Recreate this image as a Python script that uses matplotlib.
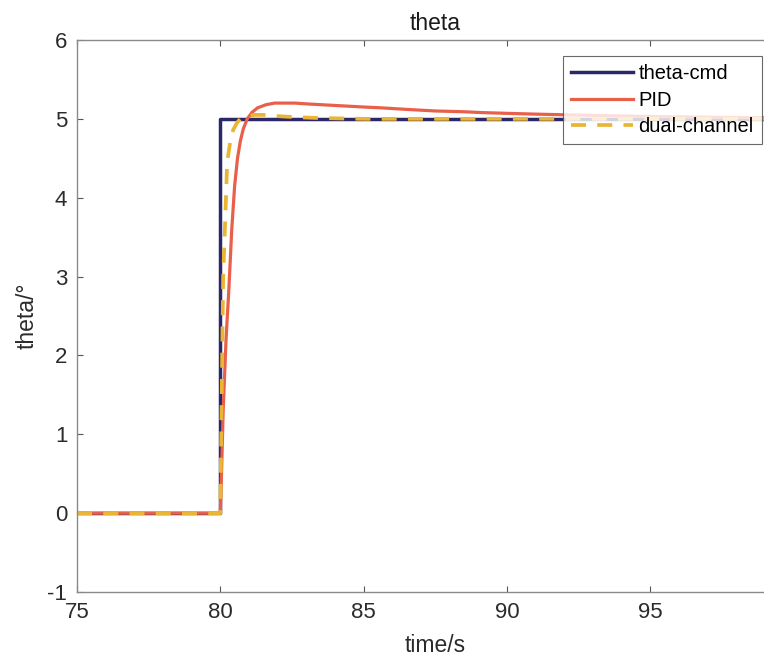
import matplotlib
matplotlib.use("Agg")
import matplotlib.pyplot as plt

plt.rcParams['font.family'] = ['Liberation Sans', 'DejaVu Sans']
plt.rcParams['axes.unicode_minus'] = False

# theta command (step)
t_cmd = [75, 80, 80, 100]
y_cmd = [0, 0, 5, 5]

# PID response
t_pid = [75, 80.0, 80.05, 80.1, 80.2, 80.3, 80.4, 80.5, 80.6, 80.7, 80.8, 80.94,
         81.1, 81.3, 81.6, 81.9, 82.2, 82.6, 83.0, 83.5, 84.0, 85.0, 85.6, 86.5,
         87.5, 88.5, 89.1, 90.0, 91.0, 92.2, 93.5, 95.0, 97.0, 100.0]
y_pid = [0, 0, 0.6, 1.3, 2.2, 2.85, 3.6, 4.15, 4.5, 4.72, 4.87, 5.0,
         5.08, 5.14, 5.18, 5.2, 5.2, 5.2, 5.19, 5.18, 5.17, 5.15, 5.14, 5.12,
         5.1, 5.09, 5.08, 5.07, 5.06, 5.05, 5.04, 5.03, 5.02, 5.01]

# dual-channel response
t_dual = [75, 80.0, 80.05, 80.1, 80.17, 80.24, 80.35, 80.45, 80.58, 80.7, 80.9,
          81.2, 81.5, 81.8, 82.2, 82.7, 83.5, 85.0, 100.0]
y_dual = [0, 0, 1.5, 3.0, 3.7, 4.45, 4.72, 4.86, 4.95, 5.0, 5.03,
          5.05, 5.05, 5.04, 5.03, 5.02, 5.01, 5.0, 5.0]

x_ticks = [75, 80, 85, 90, 95]
y_ticks = [-1, 0, 1, 2, 3, 4, 5, 6]
labels = ['theta-cmd', 'PID', 'dual-channel']
colors = ['#2c2767', '#e8604a', '#eab534']

fig = plt.figure(figsize=(7.64, 6.57), dpi=100)
W, H = 764, 657
left, top, bottom = 77, 40, 592
xmin, xmax = 75, 100
px_per_unit = 143.3 / 5
width_px = (xmax - xmin) * px_per_unit
ax = fig.add_axes([left / W, 1 - bottom / H, width_px / W, (bottom - top) / H])

ax.plot(t_cmd, y_cmd, color=colors[0], lw=2.5, label=labels[0])
ax.plot(t_pid, y_pid, color=colors[1], lw=2.3, label=labels[1])
ax.plot(t_dual, y_dual, color=colors[2], lw=2.7, ls=(0, (4, 3)), label=labels[2])

ax.set_xlim(xmin, xmax)
ax.set_ylim(-1, 6)
ax.set_xticks(x_ticks)
ax.set_yticks(y_ticks)

for s in ax.spines.values():
    s.set_color('#8a8a8a')
    s.set_linewidth(1.0)
ax.spines['right'].set_visible(False)
ax.tick_params(direction='in', length=4, width=0.8, color='#555555',
               labelsize=16, labelcolor='#2b2b2b', top=True, right=False, pad=7)

ax.set_title('theta', fontsize=16.5, color='#1a1a1a', pad=7)
ax.set_xlabel('time/s', fontsize=16.5, color='#2b2b2b', labelpad=8)
ax.set_ylabel('theta/°', fontsize=16.5, color='#2b2b2b', labelpad=6)

leg = fig.legend(loc='upper left', bbox_to_anchor=(563 / W, 1 - 56 / H),
                 fontsize=14.5, frameon=True, fancybox=False, handlelength=3.1,
                 handletextpad=0.25, borderpad=0.4, labelspacing=0.38,
                 borderaxespad=0)
leg.get_frame().set_edgecolor('#444444')
leg.get_frame().set_linewidth(0.8)

fig.savefig('out.png', dpi=100)
